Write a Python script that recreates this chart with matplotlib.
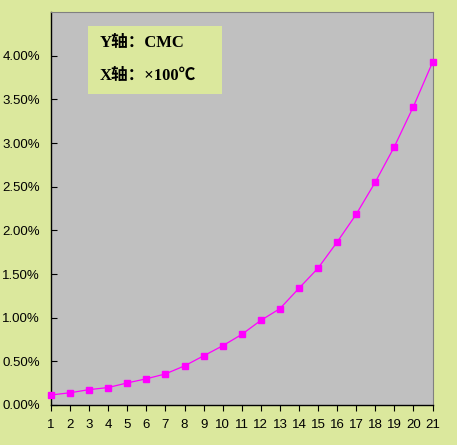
import matplotlib
matplotlib.use("Agg")
import matplotlib.pyplot as plt
from matplotlib.patches import Rectangle
from matplotlib.ticker import FuncFormatter

# x axis: temperature in units of 100 C, y axis: CMC (%)
temps = list(range(1, 22))
cmc = [0.115, 0.14, 0.176, 0.20, 0.253, 0.30, 0.356, 0.448, 0.563, 0.678,
       0.808, 0.969, 1.103, 1.337, 1.567, 1.866, 2.184, 2.552, 2.958, 3.418, 3.923]
y_ticks = [0, 0.5, 1.0, 1.5, 2.0, 2.5, 3.0, 3.5, 4.0]
note_lines = ["Y轴：CMC", "X轴：×100℃"]

bg = "#dbe89d"
plot_bg = "#c0c0c0"
line_col = "#ff00ff"

fig = plt.figure(figsize=(4.57, 4.45), dpi=100, facecolor=bg)
ax = fig.add_axes([0.1116, 0.0899, 0.8348, 0.8831])
ax.set_facecolor(plot_bg)

ax.plot(temps, cmc, color=line_col, linewidth=0.9, marker="s",
        markersize=5, markerfacecolor=line_col, markeredgecolor=line_col,
        clip_on=False, zorder=3)

ax.set_xlim(1, 21)
ax.set_ylim(0, 4.5)
ax.set_xticks(temps)
ax.set_yticks(y_ticks)
ax.yaxis.set_major_formatter(FuncFormatter(lambda v, p: f"{v:.2f}%"))

for side in ["top", "right"]:
    ax.spines[side].set_color("#808080")
    ax.spines[side].set_linewidth(0.8)
for side in ["left", "bottom"]:
    ax.spines[side].set_color("black")
    ax.spines[side].set_linewidth(1.0)

ax.tick_params(axis="x", direction="out", length=4, width=0.8, pad=6)
ax.tick_params(axis="y", direction="in", length=4, width=0.8, pad=8)
for lab in ax.get_xticklabels() + ax.get_yticklabels():
    lab.set_fontfamily("Liberation Sans")
    lab.set_fontsize(9.5)

# note box in the upper left
note_font = ["Liberation Serif", "Noto Sans CJK SC", "DejaVu Sans"]
ax.add_patch(Rectangle((0.097, 0.791), 0.351, 0.173, transform=ax.transAxes,
                       facecolor=bg, edgecolor="none", zorder=4))
ax.text(0.128, 0.922, note_lines[0], transform=ax.transAxes, fontsize=12,
        family=note_font, fontweight="bold", va="center", ha="left", zorder=5)
ax.text(0.128, 0.836, note_lines[1], transform=ax.transAxes, fontsize=12,
        family=note_font, fontweight="bold", va="center", ha="left", zorder=5)

fig.savefig("out.png", dpi=100, facecolor=bg)
